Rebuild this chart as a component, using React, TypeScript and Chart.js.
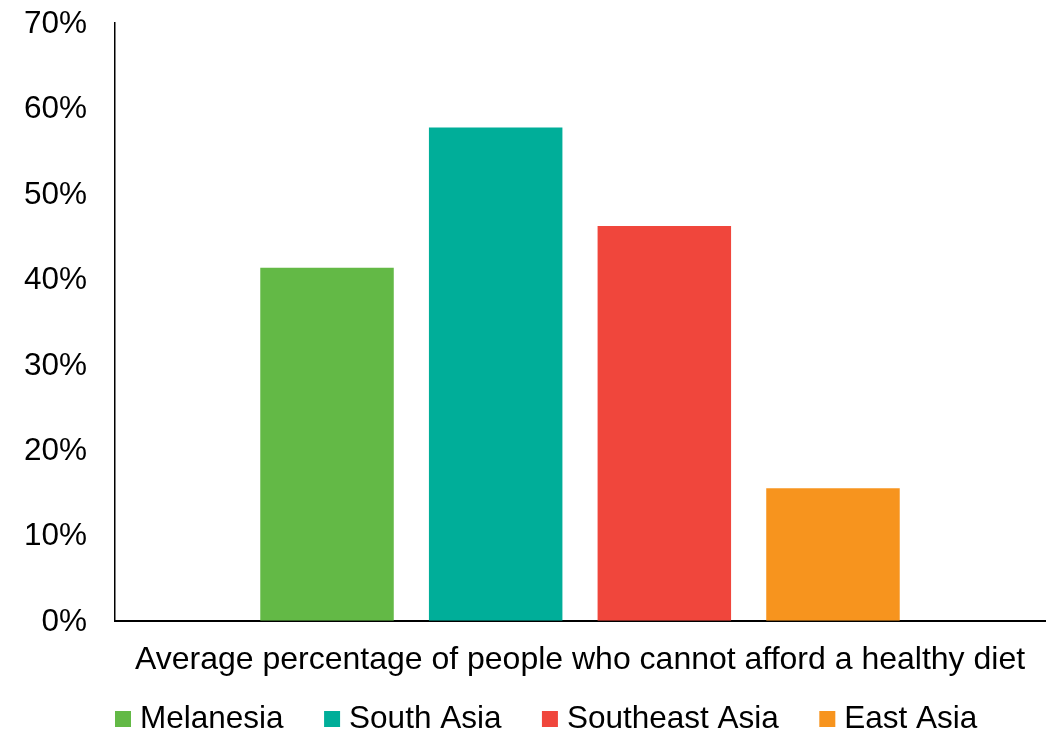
import React, { useEffect, useRef } from "react";
import { Chart, registerables } from "chart.js";

Chart.register(...registerables);

// Chart data
const categories = ["Average percentage of people who cannot afford a healthy diet"];
const regions = ["Melanesia", "South Asia", "Southeast Asia", "East Asia"];
const shareCannotAfford = [41.3, 57.7, 46.2, 15.5];
const regionColors = ["#63B946", "#00AE99", "#F0463C", "#F7941E"];
const yMin = 0;
const yMax = 70;
const yStep = 10;

const FONT_FAMILY = '"Liberation Sans", Arial, sans-serif';
const FONT_SIZE = 31.5;

// Draws a single-row legend of square swatches under the axis label
const bottomLegend = {
  id: "bottomLegend",
  afterDraw(chart: any) {
    const { ctx, chartArea } = chart;
    ctx.save();
    ctx.font = `${FONT_SIZE}px ${FONT_FAMILY}`;
    ctx.textBaseline = "middle";
    ctx.textAlign = "left";
    let x = chartArea.left;
    const boxTop = 711;
    const boxSize = 16;
    chart.data.datasets.forEach((ds: any) => {
      ctx.fillStyle = ds.backgroundColor;
      ctx.fillRect(x, boxTop, boxSize, boxSize);
      x += boxSize + 9;
      ctx.fillStyle = "#000";
      ctx.fillText(ds.label, x, 719.7);
      x += ctx.measureText(ds.label).width + 40.5;
    });
    ctx.restore();
  },
};

// Keep the plot area governed only by the layout padding
const noEdgePadding = (scale: any) => {
  scale.paddingTop = 0;
  scale.paddingBottom = 0;
  scale.paddingLeft = 0;
  scale.paddingRight = 0;
};

export default function App() {
  const canvasRef = useRef<HTMLCanvasElement | null>(null);

  useEffect(() => {
    if (!canvasRef.current) return;
    const chart = new Chart(canvasRef.current, {
      type: "bar",
      data: {
        labels: categories,
        datasets: regions.map((name, i) => ({
          label: name,
          data: [shareCannotAfford[i]],
          backgroundColor: regionColors[i],
          borderWidth: 0,
          categoryPercentage: 0.7254,
          barPercentage: 0.7915,
        })),
      },
      options: {
        responsive: false,
        animation: false,
        devicePixelRatio: 1,
        layout: { padding: { top: 22.5, left: 24, right: 6, bottom: 52.5 } },
        plugins: {
          legend: { display: false },
          tooltip: { enabled: false },
        },
        scales: {
          x: {
            grid: { display: false, drawTicks: false },
            border: { display: true, color: "#000", width: 2 },
            afterFit: (scale: any) => {
              noEdgePadding(scale);
              scale.height = 57.8;
            },
            ticks: {
              color: "#000",
              padding: 20,
              maxRotation: 0,
              autoSkip: false,
              font: { family: FONT_FAMILY, size: 32 },
            },
          },
          y: {
            min: yMin,
            max: yMax,
            grid: { display: false, drawTicks: false },
            border: { display: true, color: "#000", width: 1.5 },
            afterFit: (scale: any) => {
              noEdgePadding(scale);
              scale.width = 91;
            },
            ticks: {
              stepSize: yStep,
              color: "#000",
              padding: 28,
              labelOffset: 1.5,
              font: { family: FONT_FAMILY, size: FONT_SIZE },
              callback: (v: any) => `${v}%`,
            },
          },
        },
      },
      plugins: [bottomLegend],
    });
    return () => chart.destroy();
  }, []);

  return (
    <div style={{ position: "absolute", left: 0, top: 0, width: 1051, height: 731, background: "#fff" }}>
      <canvas ref={canvasRef} width={1051} height={731} />
    </div>
  );
}
